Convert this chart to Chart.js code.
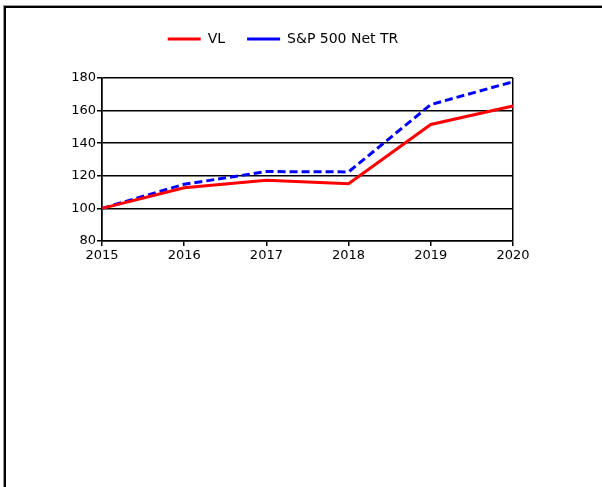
<!DOCTYPE html>
<html>
<head>
<meta charset="utf-8">
<script src="https://cdn.jsdelivr.net/npm/chart.js@4/dist/chart.umd.min.js"></script>
<style>
  html, body { margin: 0; padding: 0; background: #fff; }
  #wrap { position: relative; width: 602px; height: 487px; overflow: hidden; }
  #frame { position: absolute; left: 4px; top: 6px; width: 700px; height: 600px;
           border-left: 2px solid #000; border-top: 2px solid #000; box-shadow: -1px -1px 0 #999; }
  canvas { position: absolute; left: 0; top: 0; }
</style>
</head>
<body>
<div id="wrap">
  <div id="frame"></div>
  <canvas id="c" width="602" height="487"></canvas>
</div>
<script>
const years = ['2015', '2016', '2017', '2018', '2019', '2020'];
const vlValues = [100, 112.7, 117.3, 115.2, 151.5, 162.8];
const spValues = [100, 114.8, 122.6, 122.4, 163.7, 177.7];
const seriesNames = ['VL', 'S&P 500 Net TR'];
const yMin = 80, yMax = 180, yStep = 20;

const tickFont = { family: 'DejaVu Sans', size: 13 };

new Chart(document.getElementById('c'), {
  type: 'line',
  data: {
    labels: years,
    datasets: [
      { label: seriesNames[0], data: vlValues, borderColor: '#ff0000', backgroundColor: '#ff0000',
        borderWidth: 3, pointRadius: 0, tension: 0, borderCapStyle: 'butt', fill: false },
      { label: seriesNames[1], data: spValues, borderColor: '#0000ff', backgroundColor: '#0000ff',
        borderWidth: 3, borderDash: [8, 4], pointRadius: 0, tension: 0, borderCapStyle: 'butt', fill: false }
    ]
  },
  options: {
    responsive: false,
    devicePixelRatio: 1,
    animation: false,
    layout: { padding: { left: 53, right: 89, top: 10, bottom: 223 } },
    plugins: {
      tooltip: { enabled: false },
      legend: {
        display: true,
        position: 'top',
        labels: {
          usePointStyle: true,
          pointStyle: 'line',
          pointStyleWidth: 33,
          boxWidth: 33,
          padding: 22,
          color: '#000',
          font: { family: 'DejaVu Sans', size: 14 }
        }
      },
      subtitle: { display: true, text: '', weight: 0, padding: 0, font: { size: 22, lineHeight: 1 } }
    },
    scales: {
      x: {
        type: 'category',
        offset: false,
        afterFit: s => { s.height = 23; },
        grid: {
          drawOnChartArea: true,
          color: c => (c.index === 0 || c.index === years.length - 1) ? '#000' : 'rgba(0,0,0,0)',
          tickColor: '#000',
          lineWidth: 1.5,
          tickLength: 5
        },
        border: { display: true, color: '#000', width: 1.5 },
        ticks: { color: '#000', font: tickFont, padding: 2, maxRotation: 0, autoSkip: false }
      },
      y: {
        min: yMin, max: yMax,
        afterFit: s => { s.width = 49; },
        grid: { color: '#000', lineWidth: 1.5, tickLength: 5, tickColor: '#000' },
        border: { display: true, color: '#000', width: 1.5 },
        ticks: { stepSize: yStep, color: '#000', font: tickFont, padding: 1 }
      }
    }
  }
});
</script>
</body>
</html>
